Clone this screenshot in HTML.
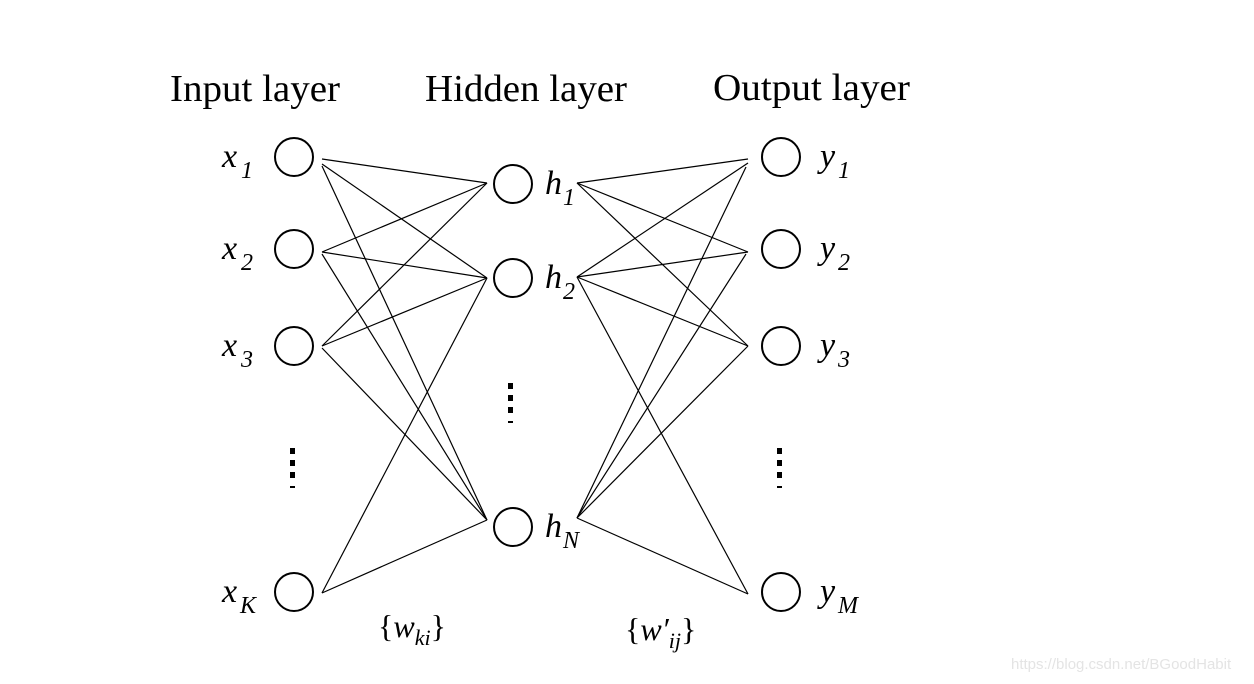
<!DOCTYPE html>
<html><head><meta charset="utf-8"><style>
html,body{margin:0;padding:0;background:#fff;width:1254px;height:684px;overflow:hidden}
svg{display:block}
text{font-family:"Liberation Serif",serif;fill:#000}
.v{font-style:italic;font-size:34px}
.s{font-style:italic;font-size:24px}
</style></head><body>
<svg width="1254" height="684" viewBox="0 0 1254 684" xmlns="http://www.w3.org/2000/svg">
<g font-size="38">
<text x="170" y="101" textLength="170" lengthAdjust="spacingAndGlyphs">Input layer</text>
<text x="425" y="101" textLength="202" lengthAdjust="spacingAndGlyphs">Hidden layer</text>
<text x="713" y="100" textLength="197" lengthAdjust="spacingAndGlyphs">Output layer</text>
</g>
<g fill="none" stroke="#000" stroke-width="2">
<circle cx="294" cy="157" r="19"/><circle cx="294" cy="249" r="19"/><circle cx="294" cy="346" r="19"/><circle cx="294" cy="592" r="19"/>
<circle cx="513" cy="184" r="19"/><circle cx="513" cy="278" r="19"/><circle cx="513" cy="527" r="19"/>
<circle cx="781" cy="157" r="19"/><circle cx="781" cy="249" r="19"/><circle cx="781" cy="346" r="19"/><circle cx="781" cy="592" r="19"/>
</g>
<g stroke="#000" stroke-width="1.2" fill="none">
<line x1="322" y1="159" x2="487" y2="183"/>
<line x1="322" y1="164" x2="487" y2="278"/>
<line x1="322" y1="166" x2="487" y2="520"/>
<line x1="322" y1="252" x2="487" y2="183"/>
<line x1="322" y1="252" x2="487" y2="278"/>
<line x1="322" y1="254" x2="487" y2="520"/>
<line x1="322" y1="346" x2="487" y2="183"/>
<line x1="322" y1="346" x2="487" y2="278"/>
<line x1="322" y1="348" x2="487" y2="520"/>
<line x1="322" y1="593" x2="487" y2="278"/>
<line x1="322" y1="593" x2="487" y2="520"/>
<line x1="577" y1="183" x2="748" y2="159"/>
<line x1="577" y1="183" x2="748" y2="252"/>
<line x1="577" y1="183" x2="748" y2="346"/>
<line x1="577" y1="277" x2="748" y2="163"/>
<line x1="577" y1="277" x2="748" y2="252"/>
<line x1="577" y1="277" x2="748" y2="346"/>
<line x1="577" y1="277" x2="748" y2="594"/>
<line x1="577" y1="518" x2="746" y2="167"/>
<line x1="577" y1="518" x2="746" y2="254"/>
<line x1="577" y1="518" x2="748" y2="346"/>
<line x1="577" y1="518" x2="748" y2="594"/>
</g>
<g fill="#000">
<rect x="290" y="448" width="5" height="6"/><rect x="290" y="460" width="5" height="6"/><rect x="290" y="472" width="5" height="6"/><rect x="290" y="486" width="5" height="2"/>
<rect x="508" y="383" width="5" height="6"/><rect x="508" y="395" width="5" height="6"/><rect x="508" y="407" width="5" height="6"/><rect x="508" y="421" width="5" height="2"/>
<rect x="777" y="448" width="5" height="6"/><rect x="777" y="460" width="5" height="6"/><rect x="777" y="472" width="5" height="6"/><rect x="777" y="486" width="5" height="2"/>
</g>
<text class="v" x="222" y="167">x</text><text class="s" x="241" y="178">1</text>
<text class="v" x="222" y="259">x</text><text class="s" x="241" y="270">2</text>
<text class="v" x="222" y="356">x</text><text class="s" x="241" y="367">3</text>
<text class="v" x="222" y="602">x</text><text class="s" x="240" y="613">K</text>
<text class="v" x="545" y="194">h</text><text class="s" x="563" y="205">1</text>
<text class="v" x="545" y="288">h</text><text class="s" x="563" y="299">2</text>
<text class="v" x="545" y="537">h</text><text class="s" x="563" y="548">N</text>
<text class="v" x="820" y="167">y</text><text class="s" x="838" y="178">1</text>
<text class="v" x="820" y="259">y</text><text class="s" x="838" y="270">2</text>
<text class="v" x="820" y="356">y</text><text class="s" x="838" y="367">3</text>
<text class="v" x="820" y="602">y</text><text class="s" x="838" y="613">M</text>
<text x="378" y="637" font-size="32">{<tspan font-style="italic">w</tspan><tspan font-style="italic" font-size="22" dy="8">ki</tspan><tspan dy="-8">}</tspan></text>
<text x="625" y="640" font-size="32">{<tspan font-style="italic">w′</tspan><tspan font-style="italic" font-size="22" dy="8">ij</tspan><tspan dy="-8">}</tspan></text>
<text x="1011" y="669" font-family="Liberation Sans, sans-serif" font-size="15" style="font-family:'Liberation Sans',sans-serif;fill:#e4e4e4">https://blog.csdn.net/BGoodHabit</text>
</svg>
</body></html>
